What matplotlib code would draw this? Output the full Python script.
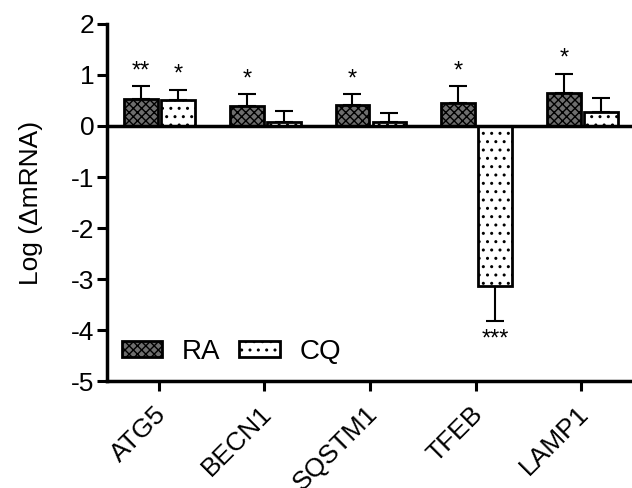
import numpy as np
import matplotlib.pyplot as plt
import matplotlib.transforms as mtransforms

plt.rcParams['font.family'] = ['Liberation Sans', 'DejaVu Sans']
plt.rcParams['hatch.linewidth'] = 1.0
plt.rcParams['axes.unicode_minus'] = False

genes = ['ATG5', 'BECN1', 'SQSTM1', 'TFEB', 'LAMP1']
ra_mean = [0.53, 0.40, 0.42, 0.45, 0.65]
ra_err = [0.25, 0.22, 0.20, 0.33, 0.37]
cq_mean = [0.50, 0.08, 0.08, -3.13, 0.27]
cq_err = [0.21, 0.21, 0.17, 0.69, 0.28]
ra_sig = ['**', '*', '*', '*', '*']
cq_sig = ['*', '', '', '***', '']

x = np.arange(len(genes))
w = 0.32

fig = plt.figure(figsize=(6.32, 4.88), dpi=100)
ax = fig.add_axes([0.169, 0.219, 0.831, 0.732])

ax.bar(x - 0.165, ra_mean, w, color='#6e6e6e', edgecolor='black', linewidth=2,
       hatch='xxxx', label='RA', zorder=3)
ax.bar(x + 0.185, cq_mean, w, color='white', edgecolor='black', linewidth=2,
       hatch='..', label='CQ', zorder=3)

# one-sided error bars
for xi, m, e in zip(x - 0.165, ra_mean, ra_err):
    lo, hi = (0, e) if m >= 0 else (e, 0)
    ax.errorbar(xi, m, yerr=[[lo], [hi]], color='black', capsize=6.5, lw=1.5,
                capthick=1.5, zorder=2)
for xi, m, e in zip(x + 0.185, cq_mean, cq_err):
    lo, hi = (0, e) if m >= 0 else (e, 0)
    ax.errorbar(xi, m, yerr=[[lo], [hi]], color='black', capsize=6.5, lw=1.5,
                capthick=1.5, zorder=2)

# significance stars
for xi, m, e, s in zip(x - 0.165, ra_mean, ra_err, ra_sig):
    if s:
        ax.text(xi, m + e + 0.08, s, ha='center', va='bottom', fontsize=17)
for xi, m, e, s in zip(x + 0.185, cq_mean, cq_err, cq_sig):
    if s:
        if m >= 0:
            ax.text(xi, m + e + 0.08, s, ha='center', va='bottom', fontsize=17)
        else:
            ax.text(xi, m - e - 0.15, s, ha='center', va='top', fontsize=17)

ax.axhline(0, color='black', lw=2.5, zorder=4)

ax.set_xlim(-0.49, 4.48)
ax.set_ylim(-5, 2)
ax.set_yticks(range(-5, 3))
ax.set_xticks(x)
ax.set_xticklabels(genes, rotation=45, ha='right', rotation_mode='anchor')
ax.tick_params(axis='both', labelsize=19, width=2.2, length=7, pad=2)
ax.tick_params(axis='x', pad=5)
offset = mtransforms.ScaledTranslation(-5 / 100, -4 / 100, fig.dpi_scale_trans)
for lab in ax.get_xticklabels():
    lab.set_transform(lab.get_transform() + offset)
ax.set_ylabel('Log (\u0394mRNA)', fontsize=19, labelpad=20)

for side in ['top', 'right']:
    ax.spines[side].set_visible(False)
for side in ['left', 'bottom']:
    ax.spines[side].set_linewidth(2.5)

ax.legend(loc='center left', ncol=2, frameon=False, fontsize=20,
          handlelength=1.45, handleheight=0.5, columnspacing=0.7,
          handletextpad=0.7, borderpad=0, borderaxespad=0,
          bbox_to_anchor=(15 / 525, 29 / 357))

fig.savefig('out.png', dpi=100)
